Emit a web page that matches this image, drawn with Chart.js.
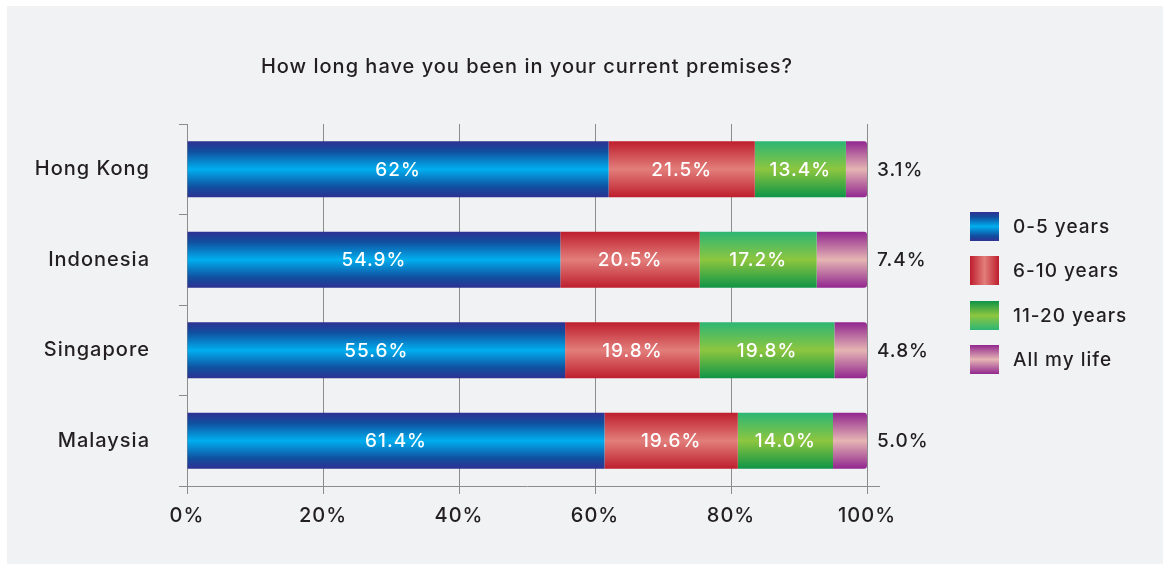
<!DOCTYPE html>
<html>
<head>
<meta charset="utf-8">
<script src="https://cdn.jsdelivr.net/npm/chart.js@4/dist/chart.umd.min.js"></script>
<style>
  html, body { margin: 0; padding: 0; background: #ffffff; }
  #panel { position: absolute; left: 7px; top: 6px; width: 1156px; height: 558px; background: #f1f2f4; }
  canvas { display: block; }
</style>
</head>
<body>
<div id="panel"><canvas id="chart" width="1156" height="558"></canvas></div>
<script>
// Survey answers, share of respondents per country (%)
const countries = ['Hong Kong', 'Indonesia', 'Singapore', 'Malaysia'];
const seriesNames = ['0-5 years', '6-10 years', '11-20 years', 'All my life'];
const years0to5   = [62.0, 54.9, 55.6, 61.4];
const years6to10  = [21.5, 20.5, 19.8, 19.6];
const years11to20 = [13.4, 17.2, 19.8, 14.0];
const allMyLife   = [3.1, 7.4, 4.8, 5.0];
const valueText = [
  ['62%', '54.9%', '55.6%', '61.4%'],
  ['21.5%', '20.5%', '19.8%', '19.6%'],
  ['13.4%', '17.2%', '19.8%', '14.0%'],
  ['3.1%', '7.4%', '4.8%', '5.0%']
];
const xTicks = [0, 20, 40, 60, 80, 100];

const FONT = 'Inter, "Open Sans", sans-serif';
const INK = '#231f20';
const GRID = '#8c8c8c';
const BAR_PCT = 0.617;
const TRACKING = '1px';

// Colour ramps across the bar thickness (edge -> centre -> edge)
const ramps = [
  [[0, '#2e3192'], [0.18, '#114f9f'], [0.5, '#00aeef'], [0.82, '#114f9f'], [1, '#2e3192']],
  [[0, '#be1e2d'], [0.5, '#e27e7b'], [1, '#be1e2d']],
  [[0, '#2cb674'], [0.5, '#8dc63f'], [1, '#0f9447']],
  [[0, '#92278f'], [0.5, '#e5b5b3'], [1, '#92278f']]
];
const solid = ['#0072bc', '#d2474d', '#5cb85a', '#b76aa6'];

function rampGradient(g, stops) {
  stops.forEach(([o, c]) => g.addColorStop(o, c));
  return g;
}

function barFill(series) {
  return (ctx) => {
    const chart = ctx.chart;
    const ys = chart.scales && chart.scales.y;
    if (!ys || ctx.type !== 'data') return solid[series];
    const cy = ys.getPixelForValue(ctx.dataIndex);
    const h = (ys.height / countries.length) * BAR_PCT;
    if (!isFinite(cy) || !isFinite(h) || h <= 0) return solid[series];
    const g = chart.ctx.createLinearGradient(0, cy - h / 2, 0, cy + h / 2);
    return rampGradient(g, ramps[series]);
  };
}

const seriesData = [years0to5, years6to10, years11to20, allMyLife];

// Slightly open letter spacing for every piece of text on the canvas
const tracking = {
  id: 'tracking',
  beforeUpdate(chart) { chart.ctx.letterSpacing = TRACKING; },
  beforeDraw(chart) { chart.ctx.letterSpacing = TRACKING; }
};

// Value labels: inside the first three segments, outside after the last one
const valueLabels = {
  id: 'valueLabels',
  afterDatasetsDraw(chart) {
    const c = chart.ctx;
    c.save();
    c.letterSpacing = TRACKING;
    c.font = '500 19px ' + FONT;
    c.textBaseline = 'middle';
    chart.data.datasets.forEach((ds, di) => {
      const meta = chart.getDatasetMeta(di);
      meta.data.forEach((el, i) => {
        const txt = valueText[di][i];
        if (di < 3) {
          c.fillStyle = '#ffffff';
          c.textAlign = 'center';
          c.fillText(txt, (el.x + el.base) / 2, el.y + 1);
        } else {
          c.fillStyle = INK;
          c.textAlign = 'left';
          c.fillText(txt, el.x + 10, el.y + 1);
        }
      });
    });
    c.restore();
  }
};

// Legend swatches to the right of the plot, plus the axis-line overhang
const sideLegend = {
  id: 'sideLegend',
  afterDraw(chart) {
    const c = chart.ctx;
    const area = chart.chartArea;
    c.save();
    c.strokeStyle = GRID;
    c.lineWidth = 1;
    c.beginPath();
    c.moveTo(area.right, area.bottom + 0.5);
    c.lineTo(area.right + 13, area.bottom + 0.5);
    c.stroke();

    const x0 = 963, top0 = 206, step = 44.4, size = 29;
    c.letterSpacing = TRACKING;
    c.font = '500 19px ' + FONT;
    c.textBaseline = 'middle';
    c.textAlign = 'left';
    chart.data.datasets.forEach((ds, di) => {
      const y = Math.round(top0 + di * step);
      let g;
      if (di === 1) {
        g = rampGradient(c.createLinearGradient(x0, 0, x0 + size, 0), ramps[1]);
      } else if (di === 2) {
        g = rampGradient(c.createLinearGradient(0, y + size, 0, y), ramps[2]);
      } else {
        g = rampGradient(c.createLinearGradient(0, y, 0, y + size), ramps[di]);
      }
      c.fillStyle = g;
      c.fillRect(x0, y, size, size);
      c.fillStyle = INK;
      c.fillText(ds.label, x0 + 43, y + size / 2 + 1);
    });
    c.restore();
  }
};

new Chart(document.getElementById('chart'), {
  type: 'bar',
  data: {
    labels: countries,
    datasets: seriesData.map((values, si) => ({
      label: seriesNames[si],
      data: values,
      backgroundColor: barFill(si),
      borderWidth: 0,
      borderRadius: si === 3 ? 3 : 0,
      borderSkipped: si === 3 ? 'start' : true,
      barPercentage: BAR_PCT,
      categoryPercentage: 1
    }))
  },
  options: {
    indexAxis: 'y',
    responsive: false,
    animation: false,
    events: [],
    layout: { padding: { top: 0, left: 0, right: 296, bottom: 0 } },
    plugins: {
      legend: { display: false },
      tooltip: { enabled: false },
      title: {
        display: true,
        text: 'How long have you been in your current premises?',
        color: INK,
        fullSize: false,
        font: { family: FONT, size: 20, weight: '500', lineHeight: 1.2 },
        padding: { top: 49, bottom: 45 }
      }
    },
    scales: {
      x: {
        stacked: true,
        min: 0,
        max: 100,
        afterBuildTicks(scale) { scale.ticks = xTicks.map(v => ({ value: v })); },
        afterFit(scale) { scale.height = 78; },
        grid: { color: GRID, lineWidth: 1, tickLength: 8, drawOnChartArea: true },
        border: { display: true, color: GRID, width: 1 },
        ticks: {
          color: INK,
          padding: 10,
          font: { family: FONT, size: 20, weight: '500' },
          callback: (v) => v + '%'
        }
      },
      y: {
        stacked: true,
        afterFit(scale) { scale.width = 180; },
        grid: { color: GRID, lineWidth: 1, tickLength: 8, drawOnChartArea: false, offset: true },
        border: { display: true, color: GRID, width: 1 },
        ticks: {
          color: INK,
          padding: 29,
          font: { family: FONT, size: 20, weight: '500' }
        }
      }
    }
  },
  plugins: [tracking, valueLabels, sideLegend]
});
</script>
</body>
</html>
